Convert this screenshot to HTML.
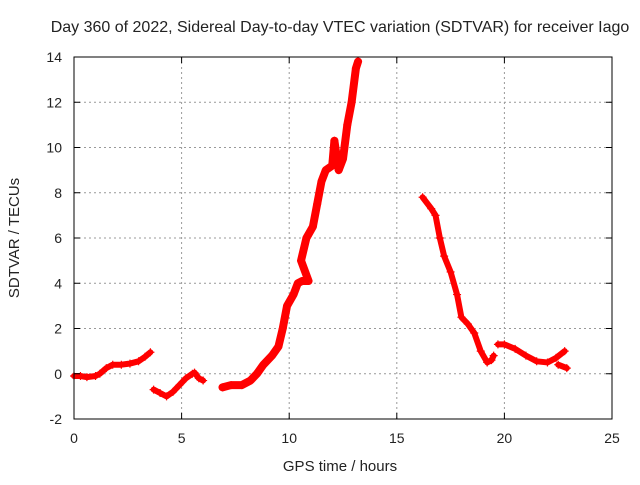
<!DOCTYPE html>
<html><head><meta charset="utf-8"><style>
body{margin:0;background:#fff}
svg text{font-family:"Liberation Sans",sans-serif;font-size:14px;fill:#222}
</style></head><body>
<svg id="chart" width="640" height="480" xmlns="http://www.w3.org/2000/svg">
<rect width="640" height="480" fill="#fff"/>
<g id="grid"></g>
<g id="series"></g>
<rect x="74" y="57" width="538" height="362" fill="none" stroke="#000" stroke-width="1"/>
<g id="ticks"></g>
<text x="340" y="32" text-anchor="middle" style="font-size:16px">Day 360 of 2022, Sidereal Day-to-day VTEC variation (SDTVAR) for receiver Iago</text>
<text x="340" y="471" text-anchor="middle" style="font-size:15px">GPS time / hours</text>
<text x="19" y="238" text-anchor="middle" style="font-size:15px" transform="rotate(-90 19 238)">SDTVAR / TECUs</text>
</svg>
<script>
const xTicks=[0,5,10,15,20,25];
const yTicks=[-2,0,2,4,6,8,10,12,14];
const seg1X=[0,0.3,0.6,1.0,1.2,1.5,1.8,2.2,2.6,3.0,3.3,3.55];
const seg1Y=[-0.1,-0.1,-0.15,-0.1,0,0.25,0.4,0.4,0.45,0.55,0.75,0.95];
const seg2X=[3.7,4.0,4.3,4.6,4.9,5.2,5.5,5.6,5.8,6.0];
const seg2Y=[-0.7,-0.85,-1.0,-0.8,-0.5,-0.2,0.0,0.05,-0.2,-0.3];
const seg3X=[6.9,7.3,7.8,8.2,8.5,8.8,9.2,9.5,9.7,9.9,10.2,10.4,10.6,10.9,10.55,10.8,11.1,11.3,11.5,11.7,12.0,12.1,12.3,12.5,12.7,12.9,13.1,13.2];
const seg3Y=[-0.6,-0.5,-0.5,-0.3,0,0.4,0.8,1.2,2,3,3.5,4.0,4.1,4.1,5.0,6,6.5,7.5,8.5,9,9.2,10.3,9,9.5,11,12,13.5,13.8];
const seg4X=[16.2,16.6,16.8,17.0,17.2,17.5,17.8,18.0,18.3,18.6,18.9,19.2,19.4,19.5];
const seg4Y=[7.8,7.3,7,6,5.2,4.5,3.5,2.5,2.2,1.8,1.0,0.5,0.6,0.8];
const seg5X=[19.7,20.0,20.5,21.0,21.5,22.0,22.4,22.8];
const seg5Y=[1.3,1.3,1.1,0.8,0.55,0.5,0.7,1.0];
const seg6X=[22.5,22.9];
const seg6Y=[0.4,0.25];
const NS="http://www.w3.org/2000/svg";
const X=h=>74+h*(538/25);
const Y=v=>419-(v+2)*(362/16);
function mk(t,a,parent){const e=document.createElementNS(NS,t);for(const k in a)e.setAttribute(k,a[k]);parent.appendChild(e);return e;}
const grid=document.getElementById('grid'),ticks=document.getElementById('ticks'),ser=document.getElementById('series');
xTicks.forEach(t=>{
  if(t>0&&t<25){const g=mk('line',{x1:X(t),x2:X(t),y1:57,y2:419,stroke:'#999','stroke-dasharray':'2,3'},grid);
  
  }
  mk('line',{x1:X(t),x2:X(t),y1:419,y2:413,stroke:'#000'},ticks);
  mk('line',{x1:X(t),x2:X(t),y1:57,y2:63,stroke:'#000'},ticks);
  const l=mk('text',{x:X(t),y:443,'text-anchor':'middle'},ticks);l.textContent=t;
  
  
});
yTicks.forEach(t=>{
  if(t>-2&&t<14){const g=mk('line',{x1:74,x2:612,y1:Y(t),y2:Y(t),stroke:'#999','stroke-dasharray':'2,3'},grid);
  
  }
  mk('line',{x1:74,x2:80,y1:Y(t),y2:Y(t),stroke:'#000'},ticks);
  mk('line',{x1:612,x2:606,y1:Y(t),y2:Y(t),stroke:'#000'},ticks);
  const l=mk('text',{x:62,y:Y(t)+5,'text-anchor':'end'},ticks);l.textContent=t;
  
  
});
[[seg1X,seg1Y],[seg2X,seg2Y],[seg3X,seg3Y],[seg4X,seg4Y],[seg5X,seg5Y],[seg6X,seg6Y]].forEach(([xs,ys],i)=>{
  const pts=xs.map((x,j)=>X(x)+','+Y(ys[j])).join(' ');
  const p=mk('polyline',{points:pts,fill:'none',stroke:'#f00','stroke-width':i==2?8:6,'stroke-linejoin':'round','stroke-linecap':'round'},ser);
  
  
  xs.forEach((x,j)=>{
    const m=mk('path',{d:`M${X(x)-4},${Y(ys[j])}h8M${X(x)},${Y(ys[j])-4}v8`,stroke:'#f00','stroke-width':1.2},ser);
    
    
  });
});
</script>
</body></html>
